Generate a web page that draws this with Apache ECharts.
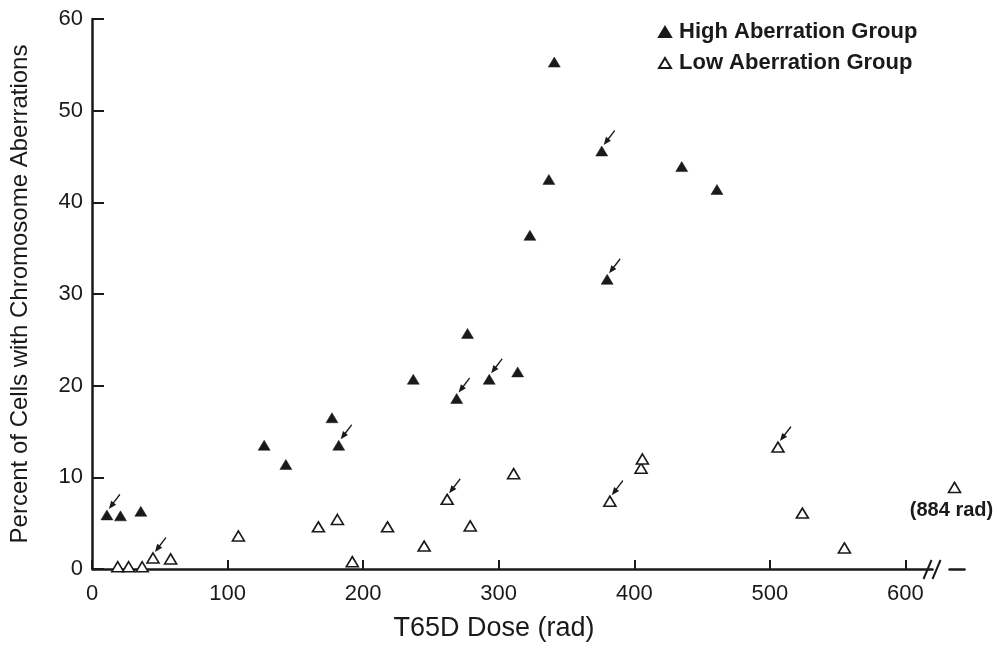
<!DOCTYPE html>
<html>
<head>
<meta charset="utf-8">
<script src="https://cdn.jsdelivr.net/npm/echarts@6/dist/echarts.min.js"></script>
<style>html,body{margin:0;padding:0;background:#fff}#c{width:997px;height:648px}</style>
</head>
<body>
<div id="c"></div>
<script>
// ---- data ----
const xTicks = [0, 100, 200, 300, 400, 500, 600];
const yTicks = [0, 10, 20, 30, 40, 50, 60];

const highDose = [11, 21, 36, 127, 143, 177, 182, 237, 269, 277, 293, 314, 323, 337, 341, 376, 380, 435, 461];
const highPct  = [5.9, 5.8, 6.3, 13.5, 11.4, 16.5, 13.5, 20.7, 18.6, 25.7, 20.7, 21.5, 36.4, 42.5, 55.3, 45.6, 31.6, 43.9, 41.4];

const lowDose = [19, 27, 37, 45, 58, 108, 167, 181, 192, 218, 245, 262, 279, 311, 382, 405, 406, 506, 524, 555, 884];
const lowPct  = [0.25, 0.25, 0.25, 1.2, 1.1, 3.6, 4.6, 5.4, 0.8, 4.6, 2.5, 7.6, 4.7, 10.4, 7.4, 11.0, 12.0, 13.3, 6.1, 2.3, 8.9];

const highArrowDose = [11, 182, 269, 293, 376, 380];
const lowArrowDose  = [45, 262, 382, 506];

const labelledDose = 884;
const labelledText = '(884 rad)';
const axisBreak = { start: 620, end: 880 };

// ---- chart ----
const ink = '#1a1a1a';
const font = '"Liberation Sans", Arial, sans-serif';

const pairs = (xs, ys) => xs.map((x, i) => [x, ys[i]]);
const high = pairs(highDose, highPct);
const lowRaw = pairs(lowDose, lowPct);
const low = lowRaw.map(p => p[0] === labelledDose ? {
  value: p,
  label: { show: true, formatter: labelledText, position: 'bottom', distance: 7, offset: [-3, 0],
           fontSize: 20, fontWeight: 'bold', fontFamily: font, color: ink }
} : p);
const arrows = high.filter(p => highArrowDose.includes(p[0]))
  .concat(lowRaw.filter(p => lowArrowDose.includes(p[0])));

const arrowPath = 'path://M10.5 0L3.6 8.9M0 13.5L1.64 7.81L5.12 10.51Z';

const chart = echarts.init(document.getElementById('c'), null, { renderer: 'canvas' });
chart.setOption({
  animation: false,
  backgroundColor: '#fff',
  grid: { left: 91, right: 33, top: 19, bottom: 79 },
  legend: {
    data: ['High Aberration Group', 'Low Aberration Group'],
    orient: 'vertical', left: 653, top: 16,
    itemWidth: 12, itemHeight: 10, itemGap: 9,
    textStyle: { fontSize: 22, fontWeight: 'bold', fontFamily: font, color: ink, padding: [0, 0, 0, 3] }
  },
  xAxis: {
    type: 'value', min: 0, max: 891,
    breaks: [{ start: axisBreak.start, end: axisBreak.end, gap: '1.9%' }],
    breakArea: { show: false },
    name: 'T65D Dose (rad)', nameLocation: 'middle', nameGap: 46,
    nameTextStyle: { fontSize: 27, fontFamily: font, color: ink, padding: [0, 68, 0, 0] },
    axisLine: { onZero: false, lineStyle: { color: ink, width: 2.5 } },
    axisTick: { inside: true, length: 9, customValues: xTicks, lineStyle: { color: ink, width: 2 } },
    axisLabel: { customValues: xTicks, margin: 14, fontSize: 22, fontFamily: font, color: ink },
    splitLine: { show: false }
  },
  yAxis: {
    type: 'value', min: 0, max: 60, interval: 10,
    name: 'Percent of Cells with Chromosome Aberrations', nameLocation: 'middle', nameGap: 60,
    nameTextStyle: { fontSize: 24, fontFamily: font, color: ink },
    axisLine: { onZero: false, lineStyle: { color: ink, width: 2.5 } },
    axisTick: { inside: true, length: 12, lineStyle: { color: ink, width: 2 } },
    axisLabel: { margin: 9, fontSize: 22, fontFamily: font, color: ink },
    splitLine: { show: false }
  },
  series: [
    {
      name: 'High Aberration Group', type: 'scatter', data: high,
      symbol: 'triangle', symbolSize: [12, 10],
      itemStyle: { color: ink, borderColor: ink, borderWidth: 0.5, opacity: 1 }
    },
    {
      name: 'Low Aberration Group', type: 'scatter', data: low,
      symbol: 'triangle', symbolSize: [12, 10],
      itemStyle: { color: '#fff', borderColor: ink, borderWidth: 1.6, opacity: 1 }
    },
    {
      name: 'arrows', type: 'scatter', data: arrows,
      symbol: arrowPath, symbolSize: [10, 13], symbolOffset: [8, -14],
      itemStyle: { color: ink, borderColor: ink, borderWidth: 1.4, opacity: 1 },
      silent: true, z: 3
    }
  ]
});

// axis-break mark "//" on the x axis line
const bp = chart.convertToPixel({ xAxisIndex: 0, yAxisIndex: 0 }, [axisBreak.start, 0]);
const slashes = [-5, 4].map(dx => ({
  type: 'line',
  shape: { x1: bp[0] + dx - 4, y1: bp[1] + 10, x2: bp[0] + dx + 4, y2: bp[1] - 9 },
  style: { stroke: ink, lineWidth: 2 }
}));
chart.setOption({ graphic: slashes });
</script>
</body>
</html>
